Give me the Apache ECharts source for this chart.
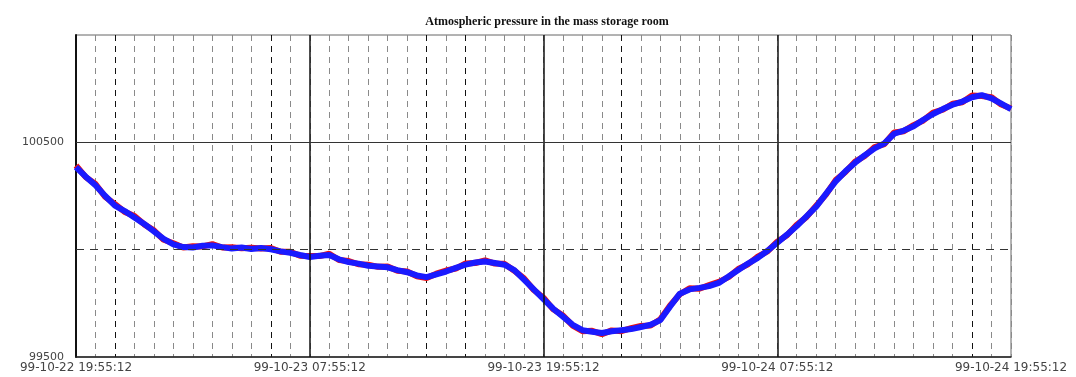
<!DOCTYPE html>
<html>
<head>
<meta charset="utf-8">
<script src="https://cdn.jsdelivr.net/npm/echarts@6/dist/echarts.min.js"></script>
<style>
html,body{margin:0;padding:0;background:#fff;}
#chart{width:1076px;height:377px;}
</style>
</head>
<body>
<div id="chart"></div>
<script>
// Hours after 99-10-22 19:55:12, one sample every half hour
const stepHours = 0.5;
const tickLabels = ["99-10-22 19:55:12", "99-10-23 07:55:12", "99-10-23 19:55:12", "99-10-24 07:55:12", "99-10-24 19:55:12"];
const yLabels = [99500, 100500];

const bluePressure = [
  100385,100340,100300,100250,100205,100180,100150,100120,100085,100050,
  100025,100012,100010,100018,100020,100012,100005,100010,100003,100008,
  100002,99992,99985,99975,99966,99972,99975,99955,99942,99935,
  99925,99922,99918,99905,99895,99880,99872,99885,99898,99915,
  99930,99940,99945,99938,99930,99905,99860,99815,99770,99725,
  99688,99650,99625,99618,99612,99620,99625,99630,99640,99650,
  99672,99735,99795,99815,99822,99830,99845,99875,99905,99935,
  99962,99995,100032,100070,100110,100155,100200,100260,100318,100365,
  100405,100440,100472,100495,100540,100555,100575,100605,100632,100655,
  100675,100690,100710,100720,100705,100680,100655
];
const redPressure = [
  100392,100338,100306,100246,100212,100176,100157,100118,100090,100046,
  100030,100010,100016,100015,100026,100010,100011,100007,100009,100005,
  100008,99990,99990,99972,99970,99970,99981,99952,99947,99932,
  99930,99920,99922,99902,99898,99876,99868,99888,99903,99912,
  99936,99938,99950,99935,99934,99902,99866,99812,99776,99722,
  99693,99646,99620,99622,99606,99624,99620,99634,99645,99647,
  99676,99740,99792,99820,99818,99835,99850,99872,99910,99932,
  99968,99992,100037,100067,100116,100152,100205,100257,100324,100362,
  100410,100437,100478,100492,100546,100552,100580,100602,100638,100652,
  100680,100687,100718,100716,100710,100676,100658
];

const blueData = bluePressure.map((v, i) => [i * stepHours, v]);
const redData = redPressure.map((v, i) => [i * stepHours, v]);

// style: darker dashed hourly lines
const darkHours = [2, 10, 18, 20, 28, 46];
const vColors = [];
for (let h = 0; h <= 48; h++) vColors.push(darkHours.indexOf(h) >= 0 ? '#111' : '#8a8a8a');

const chart = echarts.init(document.getElementById('chart'));
chart.setOption({
  animation: false,
  backgroundColor: '#fff',
  title: {
    text: 'Atmospheric pressure in the mass storage room',
    left: 542, top: 11, textAlign: 'center',
    textStyle: {fontFamily: 'Liberation Serif', fontWeight: 'bold', fontSize: 12, color: '#111'}
  },
  grid: {left: 76, right: 65, top: 35, bottom: 20, show: true, borderColor: '#666', borderWidth: 1},
  xAxis: {
    type: 'value', min: 0, max: 48, interval: 1,
    axisLine: {show: true, lineStyle: {color: '#222', width: 1.5}},
    axisTick: {show: false},
    axisLabel: {
      show: true, margin: 5, color: '#444', fontFamily: 'DejaVu Sans', fontSize: 12,
      showMinLabel: true, showMaxLabel: true,
      formatter: function (v) { return (v % 12 === 0) ? tickLabels[v / 12] : ''; }
    },
    splitLine: {show: true, lineStyle: {color: vColors, type: [6, 5], width: 1}}
  },
  yAxis: {
    type: 'value', min: 99500, max: 101000, interval: 500,
    axisLine: {show: true, lineStyle: {color: '#111', width: 2}},
    axisTick: {show: false},
    axisLabel: {
      margin: 12, color: '#444', fontFamily: 'DejaVu Sans', fontSize: 11,
      formatter: function (v) { return yLabels.indexOf(v) >= 0 ? String(v) : ''; }
    },
    splitLine: {show: false}
  },
  series: [
    {
      type: 'line', data: [], z: 1, silent: true,
      markLine: {
        silent: true, symbol: 'none', label: {show: false}, animation: false,
        data: [
          {xAxis: 12, lineStyle: {color: '#111', type: 'solid', width: 1.5}},
          {xAxis: 24, lineStyle: {color: '#111', type: 'solid', width: 1.5}},
          {xAxis: 36, lineStyle: {color: '#111', type: 'solid', width: 1.5}},
          {yAxis: 100500, lineStyle: {color: '#333', type: 'solid', width: 1}},
          {yAxis: 100000, lineStyle: {color: '#333', type: [8, 6], width: 1}}
        ]
      }
    },
    {
      name: 'red', type: 'line', data: redData, z: 3, showSymbol: false,
      lineStyle: {color: '#ee1111', width: 6}
    },
    {
      name: 'blue', type: 'line', data: blueData, z: 4, showSymbol: false,
      lineStyle: {color: '#1a1aff', width: 6}
    }
  ]
});
</script>
</body>
</html>
